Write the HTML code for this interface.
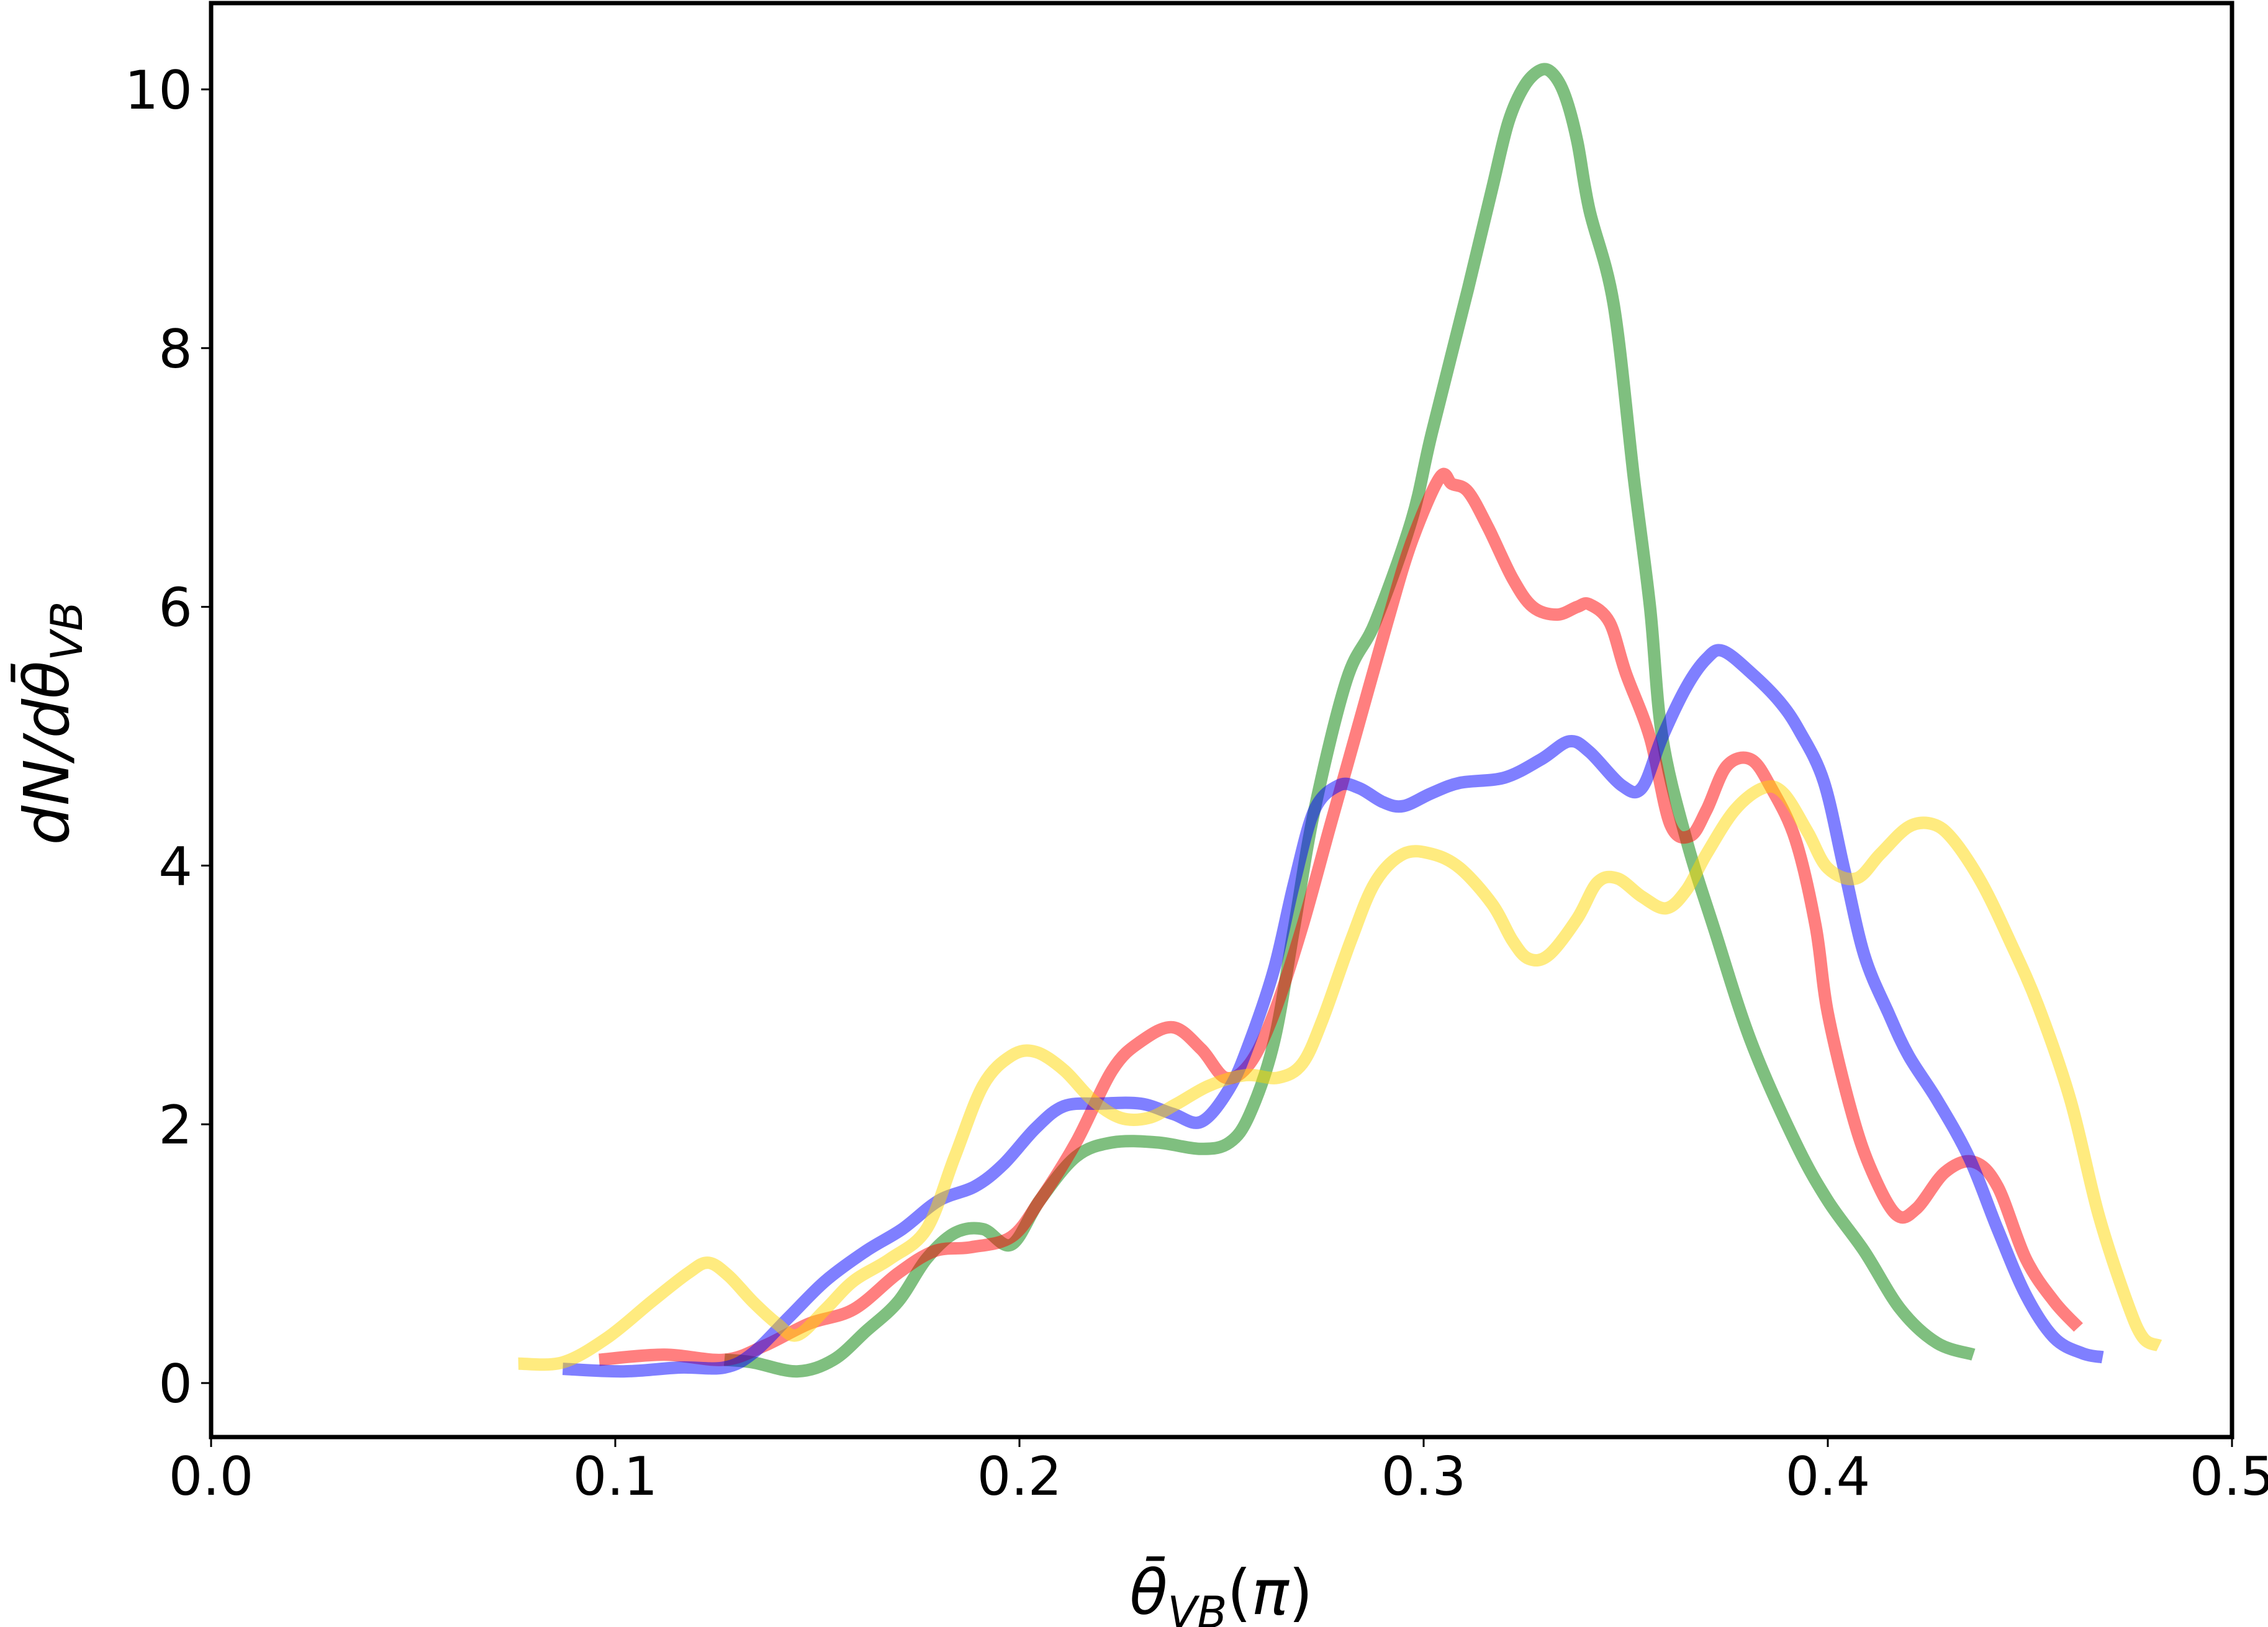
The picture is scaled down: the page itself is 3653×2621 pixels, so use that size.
<!DOCTYPE html>
<html><head><meta charset="utf-8"><style>html,body{margin:0;padding:0;background:#fff}svg{display:block}</style></head>
<body>
<svg id="chart" width="3653" height="2621" viewBox="0 0 3653 2621" xmlns="http://www.w3.org/2000/svg" font-family="'DejaVu Sans','Liberation Sans',sans-serif">
<rect width="3653" height="2621" fill="#fff"/>
<g id="series"></g>
<g id="axes"></g>
<text x="1967" y="2600" font-size="100" text-anchor="middle" font-style="italic">θ̄<tspan font-size="70" dy="22">VB</tspan><tspan dy="-22" font-style="normal">(</tspan>π<tspan font-style="normal">)</tspan></text>
<text transform="translate(110,1165) rotate(-90)" font-size="100" text-anchor="middle" font-style="italic">dN/dθ̄<tspan font-size="70" dy="22">VB</tspan></text>
</svg>
<script>
const xTicks=[0.0,0.1,0.2,0.3,0.4,0.5];
const xTickLabels=["0.0","0.1","0.2","0.3","0.4","0.5"];
const yTicks=[0,2,4,6,8,10];
const yTickLabels=["0","2","4","6","8","10"];
const greenX=[0.127,0.134,0.145,0.154,0.162,0.17,0.177,0.184,0.191,0.198,0.205,0.214,0.223,0.234,0.245,0.252,0.257,0.263,0.268,0.273,0.281,0.288,0.297,0.302,0.311,0.317,0.321,0.325,0.329,0.332,0.335,0.338,0.341,0.347,0.352,0.356,0.359,0.365,0.372,0.381,0.392,0.4,0.409,0.418,0.427,0.436];
const greenY=[0.18,0.16,0.09,0.18,0.40,0.63,0.96,1.16,1.19,1.07,1.41,1.75,1.86,1.86,1.81,1.86,2.08,2.64,3.53,4.43,5.44,5.88,6.67,7.34,8.46,9.24,9.75,10.03,10.15,10.12,9.95,9.6,9.07,8.34,7.0,6.0,5.0,4.2,3.5,2.64,1.86,1.41,1.02,0.57,0.31,0.22];
const redX=[0.096,0.112,0.127,0.137,0.148,0.159,0.17,0.179,0.188,0.198,0.205,0.214,0.223,0.23,0.238,0.245,0.251,0.257,0.263,0.27,0.277,0.284,0.291,0.297,0.304,0.307,0.311,0.316,0.322,0.327,0.333,0.338,0.341,0.346,0.35,0.356,0.361,0.366,0.37,0.375,0.381,0.386,0.392,0.397,0.4,0.406,0.411,0.417,0.422,0.429,0.436,0.442,0.449,0.456,0.462];
const redY=[0.18,0.22,0.18,0.29,0.46,0.57,0.85,1.02,1.05,1.13,1.41,1.86,2.42,2.64,2.75,2.58,2.36,2.47,2.86,3.53,4.32,5.1,5.88,6.5,7.0,6.95,6.89,6.61,6.22,6.0,5.94,6.0,6.02,5.88,5.49,4.99,4.32,4.23,4.43,4.77,4.82,4.6,4.2,3.53,2.86,2.08,1.63,1.30,1.35,1.63,1.71,1.52,0.96,0.63,0.43];
const blueX=[0.087,0.102,0.116,0.127,0.134,0.143,0.152,0.162,0.171,0.18,0.189,0.196,0.204,0.211,0.22,0.23,0.238,0.245,0.252,0.257,0.263,0.268,0.273,0.279,0.284,0.29,0.295,0.302,0.309,0.32,0.329,0.336,0.341,0.349,0.354,0.359,0.365,0.37,0.374,0.381,0.388,0.393,0.399,0.404,0.409,0.415,0.42,0.427,0.435,0.442,0.449,0.456,0.463,0.468];
const blueY=[0.11,0.09,0.12,0.12,0.23,0.51,0.79,1.02,1.19,1.41,1.52,1.69,1.97,2.14,2.16,2.16,2.08,2.02,2.28,2.64,3.2,3.87,4.43,4.62,4.6,4.49,4.46,4.56,4.64,4.68,4.82,4.96,4.88,4.62,4.6,4.99,5.38,5.6,5.66,5.49,5.27,5.04,4.65,3.98,3.31,2.86,2.53,2.19,1.74,1.19,0.68,0.35,0.23,0.20];
const yellowX=[0.076,0.087,0.098,0.109,0.118,0.123,0.128,0.134,0.14,0.145,0.152,0.159,0.168,0.177,0.184,0.191,0.198,0.204,0.211,0.218,0.225,0.232,0.239,0.247,0.256,0.264,0.27,0.275,0.282,0.288,0.295,0.302,0.309,0.317,0.322,0.326,0.331,0.338,0.343,0.348,0.354,0.36,0.365,0.37,0.377,0.384,0.389,0.395,0.4,0.407,0.413,0.42,0.426,0.431,0.438,0.445,0.452,0.46,0.467,0.474,0.478,0.482];
const yellowY=[0.15,0.16,0.35,0.63,0.85,0.93,0.83,0.63,0.46,0.37,0.57,0.79,0.96,1.19,1.75,2.3,2.53,2.56,2.42,2.19,2.05,2.05,2.16,2.3,2.38,2.36,2.47,2.81,3.42,3.87,4.09,4.09,3.98,3.70,3.42,3.28,3.31,3.59,3.87,3.9,3.76,3.67,3.81,4.09,4.43,4.6,4.56,4.26,3.98,3.9,4.09,4.3,4.32,4.2,3.87,3.42,2.92,2.19,1.3,0.63,0.35,0.29];

const NS='http://www.w3.org/2000/svg';
const L=340,R=3595,T=5,B=2315;
function xs(v){return L+(v-0)/(0.5-0)*(R-L);}
function ys(v){return 2228-v*208.4;}
function mk(tag,attrs,parent){const e=document.createElementNS(NS,tag);for(const k in attrs)e.setAttribute(k,attrs[k]);parent.appendChild(e);return e;}
function smoothPath(pts){
  let d='M'+pts[0][0].toFixed(1)+','+pts[0][1].toFixed(1);
  for(let i=0;i<pts.length-1;i++){
    const p0=pts[i-1]||pts[i],p1=pts[i],p2=pts[i+1],p3=pts[i+2]||p2;
    const c1x=p1[0]+(p2[0]-p0[0])/6,c1y=p1[1]+(p2[1]-p0[1])/6;
    const c2x=p2[0]-(p3[0]-p1[0])/6,c2y=p2[1]-(p3[1]-p1[1])/6;
    d+=' C'+c1x.toFixed(1)+','+c1y.toFixed(1)+' '+c2x.toFixed(1)+','+c2y.toFixed(1)+' '+p2[0].toFixed(1)+','+p2[1].toFixed(1);
  }
  return d;
}
const sg=document.getElementById('series');
const series=[[greenX,greenY,'#008000','green-series'],[redX,redY,'#ff0000','red-series'],[blueX,blueY,'#0000ff','blue-series'],[yellowX,yellowY,'#ffd700','yellow-series']];
series.forEach(s=>{
  const pts=s[0].map((x,i)=>[xs(x),ys(s[1][i])]);
  const p=mk('path',{d:smoothPath(pts),fill:'none',stroke:s[2],'stroke-opacity':0.5,'stroke-width':20,'stroke-linejoin':'round','stroke-linecap':'butt'},sg);
  
  
});
const ag=document.getElementById('axes');
const frame=mk('rect',{x:L,y:T,width:R-L,height:B-T,fill:'none',stroke:'#000','stroke-width':7},ag);


xTicks.forEach((v,i)=>{
  const t=mk('line',{x1:xs(v),x2:xs(v),y1:B,y2:B+16,stroke:'#000','stroke-width':3},ag);
  
  
  const tx=mk('text',{x:xs(v),y:2408,'font-size':86,'text-anchor':'middle'},ag);
  tx.textContent=xTickLabels[i];
  
  
});
yTicks.forEach((v,i)=>{
  const t=mk('line',{x1:L-16,x2:L,y1:ys(v),y2:ys(v),stroke:'#000','stroke-width':3},ag);
  
  
  const tx=mk('text',{x:L-30,y:ys(v)+31,'font-size':86,'text-anchor':'end'},ag);
  tx.textContent=yTickLabels[i];
  
  
});
</script>
</body></html>
